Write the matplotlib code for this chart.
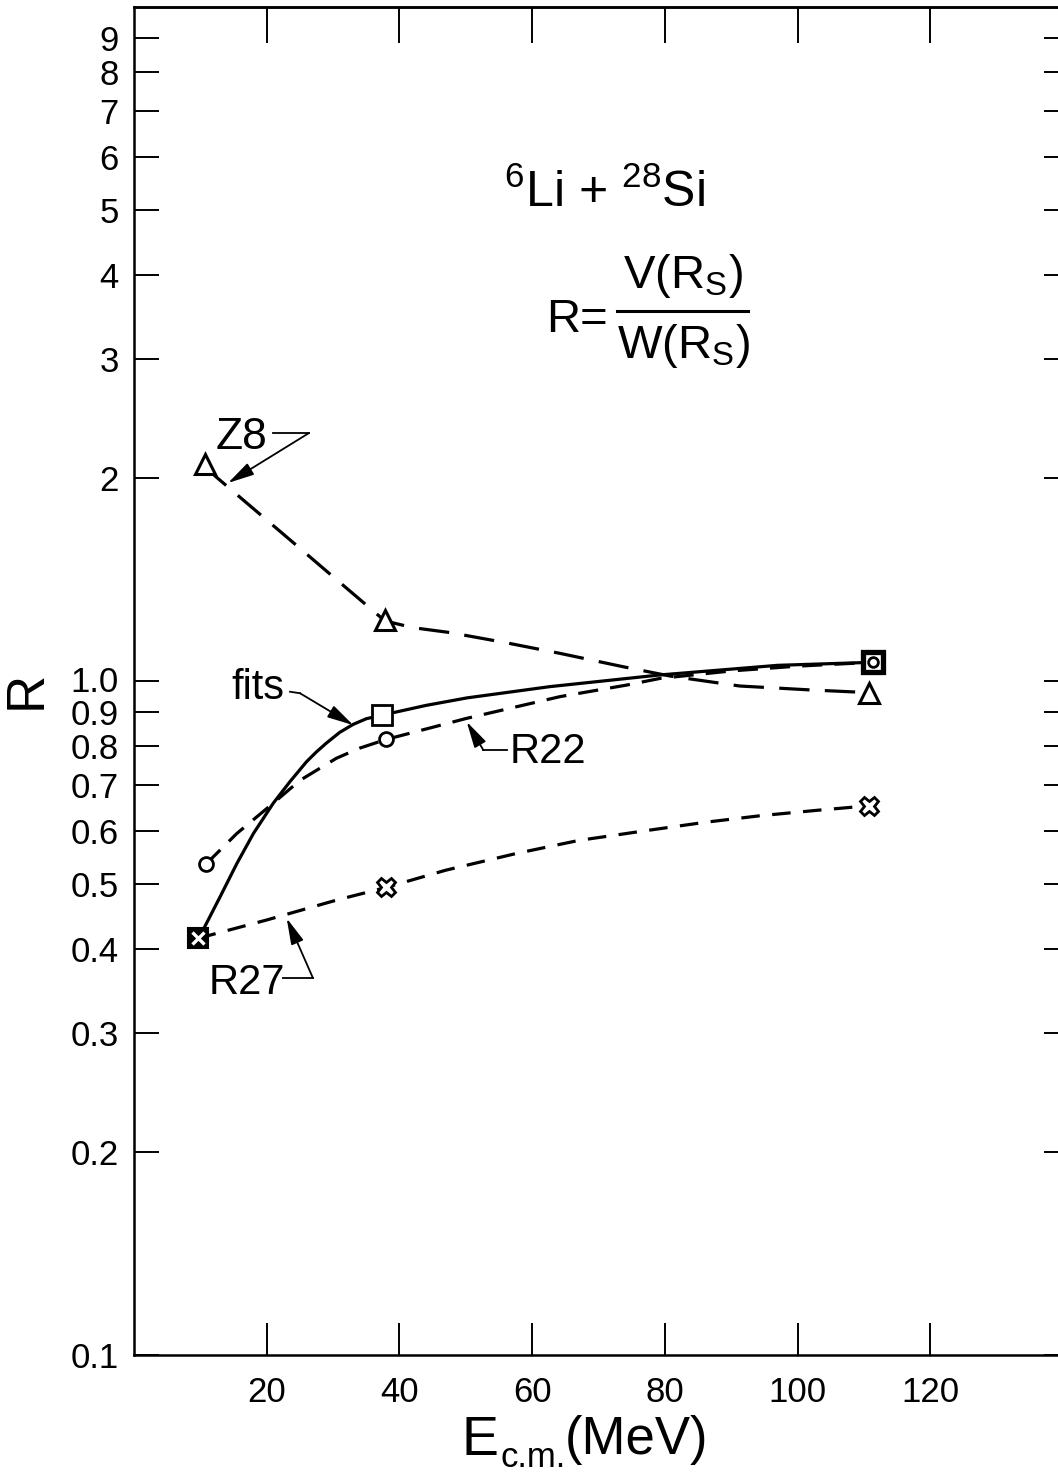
import matplotlib
matplotlib.use("Agg")
import matplotlib.pyplot as plt
from matplotlib.lines import Line2D
from matplotlib.transforms import ScaledTranslation

plt.rcParams["font.family"] = ["Liberation Sans", "DejaVu Sans"]
plt.rcParams["mathtext.default"] = "regular"

# marker values (E_cm in MeV, R)
z8_x = [10.7, 37.8, 110.8]
z8_y = [2.10, 1.23, 0.961]
fits_x = [9.6, 37.4, 111.3]
fits_y = [0.415, 0.890, 1.066]
r22_x = [10.85, 38.0, 111.3]
r22_y = [0.535, 0.819, 1.066]
r27_x = [9.6, 38.0, 110.8]
r27_y = [0.415, 0.494, 0.653]

# curves
z8_curve_x = [10.7, 12.2, 17.5, 23.5, 29.5, 34.0, 37.8, 42.0, 47.6, 56.0, 64.2, 73.7, 80.8, 91.3, 101.9, 110.8]
z8_curve_y = [2.10, 2.015, 1.819, 1.620, 1.442, 1.322, 1.228, 1.200, 1.180, 1.14, 1.099, 1.050, 1.017, 0.983, 0.970, 0.961]
fits_curve_x = [9.6, 10.4, 13.0, 15.5, 18.0, 21.0, 23.5, 26.0, 27.5, 29.0, 31.0, 33.0, 35.0, 37.4,
                44.0, 50.2, 62.7, 79.3, 97.0, 111.3]
fits_curve_y = [0.415, 0.427, 0.479, 0.536, 0.594, 0.659, 0.709, 0.759, 0.785, 0.809, 0.839, 0.862, 0.879, 0.890,
                0.920, 0.944, 0.981, 1.021, 1.055, 1.066]
r22_curve_x = [10.85, 15.5, 21.0, 25.0, 30.5, 34.0, 38.0, 50.1, 64.2, 74.2, 79.3, 90.0, 100.0, 111.3]
r22_curve_y = [0.535, 0.594, 0.659, 0.712, 0.768, 0.795, 0.819, 0.880, 0.948, 0.986, 1.009, 1.035, 1.052, 1.066]
r27_curve_x = [9.6, 20.0, 30.5, 38.0, 47.0, 57.7, 67.0, 77.8, 86.0, 94.3, 103.0, 110.8]
r27_curve_y = [0.415, 0.442, 0.473, 0.494, 0.524, 0.555, 0.580, 0.601, 0.617, 0.631, 0.643, 0.653]

x_ticks = [20, 40, 60, 80, 100, 120]
y_ticks = [0.1, 0.2, 0.3, 0.4, 0.5, 0.6, 0.7, 0.8, 0.9, 1.0, 2, 3, 4, 5, 6, 7, 8, 9]
y_tick_labels = ["0.1", "0.2", "0.3", "0.4", "0.5", "0.6", "0.7", "0.8", "0.9", "1.0",
                 "2", "3", "4", "5", "6", "7", "8", "9"]

W, H = 1058, 1472
fig = plt.figure(figsize=(W / 100, H / 100), dpi=100)
ax = fig.add_axes([134 / W, 1 - 1355 / H, 929 / W, 1348 / H])
ax.set_yscale("log")
ax.set_xlim(0, 140)
ax.set_ylim(0.1, 10)

LW = 2.3
ax.plot(z8_curve_x, z8_curve_y, color="k", lw=LW, dashes=(9.5, 4.8), zorder=2)
ax.plot(fits_curve_x, fits_curve_y, color="k", lw=LW, zorder=2)
ax.plot(r22_curve_x, r22_curve_y, color="k", lw=LW, dashes=(6.3, 3.8), zorder=2)
ax.plot(r27_curve_x, r27_curve_y, color="k", lw=LW, dashes=(5.8, 3.9), zorder=2)

mk = dict(color="k", linestyle="none", mec="k", mfc="white", zorder=4)
ax.plot(z8_x, z8_y, marker="^", ms=14, mew=2.2, **mk)
ax.plot(fits_x[1:2], fits_y[1:2], marker="s", ms=15, mew=2.0, **mk)
ax.plot(r22_x[:2], r22_y[:2], marker="o", ms=10, mew=2.0, **mk)
ax.plot(r27_x[1:], r27_y[1:], marker="X", ms=13, mew=2.0, **mk)
# shared first point: filled square with white cross
ax.plot(fits_x[:1], fits_y[:1], marker="s", ms=14, mew=1.5, color="k", linestyle="none", zorder=5)
ax.plot(r27_x[:1], r27_y[:1], marker="x", ms=8, mew=2.4, color="white", linestyle="none", zorder=6)
# shared last point: heavy square with small circle
ax.plot(fits_x[2:], fits_y[2:], marker="s", ms=14, mew=3.8, **mk)
ax.plot(r22_x[2:], r22_y[2:], marker="o", ms=7, mew=2.0, color="k", mfc="white",
        linestyle="none", zorder=6)

# axes styling
for sp in ax.spines.values():
    sp.set_linewidth(1.8)
ax.set_xticks(x_ticks)
ax.set_xticklabels([str(v) for v in x_ticks])
ax.set_yticks(y_ticks)
ax.set_yticklabels(y_tick_labels)
ax.yaxis.set_minor_locator(matplotlib.ticker.NullLocator())
ax.xaxis.set_minor_locator(matplotlib.ticker.NullLocator())
ax.tick_params(axis="x", direction="in", length=23, width=1.4, labelsize=25, pad=15)
ax.tick_params(axis="y", direction="in", length=18, width=1.4, labelsize=25, pad=11)
# 1.0 and 0.9 sit very close together: lift 1.0 a little
for lab in ax.get_yticklabels():
    if lab.get_text() == "1.0":
        lab.set_transform(lab.get_transform() + ScaledTranslation(0, 2 / 100, fig.dpi_scale_trans))

top = ax.secondary_xaxis("top")
top.set_xticks(x_ticks)
top.tick_params(direction="in", length=26, width=1.4, labeltop=False)
top.spines["top"].set_linewidth(1.8)
right = ax.secondary_yaxis("right")
right.set_yticks(y_ticks)
right.yaxis.set_minor_locator(matplotlib.ticker.NullLocator())
right.tick_params(direction="in", length=14, width=1.4, labelright=False)

# axis labels
fig.text(27 / W, 1 - 690 / H, "R", rotation=90, ha="center", va="center", fontsize=38)
fig.text(461 / W, 1 - 1455 / H, "E", ha="left", va="baseline", fontsize=40)
fig.text(500 / W, 1 - 1467 / H, "c.m.", ha="left", va="baseline", fontsize=25)
fig.text(565 / W, 1 - 1454 / H, "(MeV)", ha="left", va="baseline", fontsize=38)

# reaction and ratio definition
fig.text(605 / W, 1 - 207 / H, r"$^{6}$Li + $^{28}$Si", ha="center", va="baseline", fontsize=36)
fig.text(608 / W, 1 - 332 / H, "R=", ha="right", va="baseline", fontsize=34)
fig.text(683 / W, 1 - 288 / H, r"V(R$_S$)", ha="center", va="baseline", fontsize=34)
fig.text(683 / W, 1 - 358 / H, r"W(R$_S$)", ha="center", va="baseline", fontsize=34)
fig.add_artist(Line2D([617 / W, 748 / W], [1 - 311 / H, 1 - 311 / H], color="k", lw=2.2))

# curve labels with hooked leaders
arrow = dict(arrowstyle="-|>,head_length=0.8,head_width=0.2", color="k", lw=1.3,
             mutation_scale=20, shrinkA=0, shrinkB=0)
ax.text(16.27, 2.30, "Z8", ha="center", va="center", fontsize=32)
ax.plot([20.95, 26.37], [2.333, 2.333], color="k", lw=1.3)
ax.annotate("", xy=(14.17, 1.967), xytext=(26.37, 2.333), arrowprops=arrow)

ax.text(18.69, 0.976, "fits", ha="center", va="center", fontsize=30)
ax.plot([23.51, 25.02], [0.964, 0.959], color="k", lw=1.3)
ax.annotate("", xy=(33.05, 0.860), xytext=(25.02, 0.959), arrowprops=arrow)

ax.text(62.39, 0.785, "R22", ha="center", va="center", fontsize=30)
ax.plot([56.16, 52.64], [0.790, 0.790], color="k", lw=1.3)
ax.annotate("", xy=(50.14, 0.870), xytext=(52.64, 0.790), arrowprops=arrow)

ax.text(17.03, 0.356, "R27", ha="center", va="center", fontsize=30)
ax.plot([22.45, 26.97], [0.3624, 0.3624], color="k", lw=1.3)
ax.annotate("", xy=(23.01, 0.4446), xytext=(26.97, 0.3624), arrowprops=arrow)

fig.savefig("out.png", dpi=100)
